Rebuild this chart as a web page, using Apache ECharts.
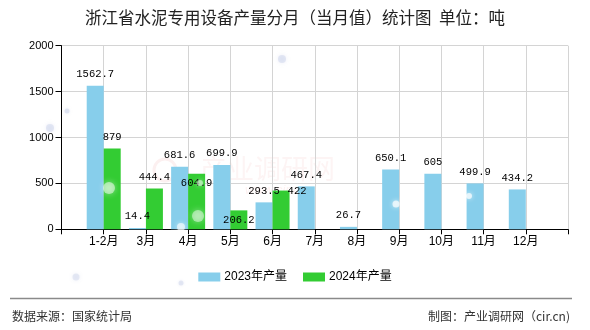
<!DOCTYPE html>
<html>
<head>
<meta charset="utf-8">
<title>浙江省水泥专用设备产量分月（当月值）统计图</title>
<script src="https://cdn.jsdelivr.net/npm/echarts@6/dist/echarts.min.js"></script>
<style>
  html, body { margin: 0; padding: 0; background: #fff; }
  #chart { width: 590px; height: 330px; }
</style>
</head>
<body>
<div id="chart"></div>
<script>
// Monthly output of cement-specific equipment in Zhejiang (tonnes)
const categories = ['1-2月', '3月', '4月', '5月', '6月', '7月', '8月', '9月', '10月', '11月', '12月'];
const output2023 = [1562.7, 14.4, 681.6, 699.9, 293.5, 467.4, 26.7, 650.1, 605, 499.9, 434.2];
const output2024 = [879, 444.4, 604.9, 206.2, 422];
const seriesNames = ['2023年产量', '2024年产量'];
const yMin = 0;
const yMax = 2000;
const yStep = 500;

// The month axis has an empty slot at each end, months sit on the ticks
const axisCategories = [''].concat(categories, ['']);
function padded(values) {
  const out = [null];
  for (let i = 0; i < categories.length; i++) {
    out.push(i < values.length ? values[i] : null);
  }
  out.push(null);
  return out;
}

// Some 2024 labels are moved so they do not collide with neighbours
const labelNudge2024 = { 2: [0, 21], 3: [0, 21], 4: [16, 12.5] };

const labelFont = { fontFamily: '"Liberation Mono", "DejaVu Sans Mono", monospace', fontSize: 10.5, color: '#000' };

function barData(values, nudge) {
  return padded(values).map(function (v, idx) {
    const k = idx - 1;
    if (v !== null && nudge && nudge[k]) {
      return { value: v, label: { offset: nudge[k] } };
    }
    return v;
  });
}

const chart = echarts.init(document.getElementById('chart'), null, { renderer: 'canvas' });

const cjk = '"Noto Sans CJK SC", sans-serif';
const sans = '"Liberation Sans", "Noto Sans CJK SC", sans-serif';

const option = {
  animation: false,
  backgroundColor: '#fff',
  title: {
    text: '浙江省水泥专用设备产量分月（当月值）统计图  单位：吨',
    left: 'center',
    top: 9,
    padding: 0,
    textStyle: { fontFamily: cjk, fontSize: 16.5, fontWeight: 'normal', color: '#222' }
  },
  legend: {
    data: seriesNames,
    left: 'center',
    top: 271,
    padding: 0,
    icon: 'rect',
    itemWidth: 22,
    itemHeight: 9,
    itemGap: 16,
    textStyle: { fontFamily: sans, fontSize: 12, color: '#000', padding: [0, 0, 0, -1] }
  },
  grid: { left: 61.5, right: 22, top: 45.7, bottom: 100.7, containLabel: false },
  xAxis: {
    type: 'category',
    data: axisCategories,
    boundaryGap: false,
    axisLine: { show: true, lineStyle: { color: '#000', width: 1 } },
    axisTick: { show: true, interval: 0, length: 5, lineStyle: { color: '#000' } },
    axisLabel: { interval: 0, margin: 6, fontFamily: sans, fontSize: 12, color: '#000' },
    splitLine: { show: true, interval: 0, lineStyle: { color: '#d4d4d4', width: 1 } }
  },
  yAxis: {
    type: 'value',
    min: yMin,
    max: yMax,
    interval: yStep,
    axisLine: { show: true, lineStyle: { color: '#000', width: 1 } },
    axisTick: { show: true, length: 6, lineStyle: { color: '#000' } },
    axisLabel: {
      margin: 8, fontFamily: sans, fontSize: 11, color: '#000',
      formatter: function (v) { return String(v); }
    },
    splitLine: { show: true, lineStyle: { color: '#d4d4d4', width: 1 } }
  },
  series: [
    {
      name: seriesNames[0],
      type: 'bar',
      data: barData(output2023, null),
      barWidth: 17,
      barGap: '0%',
      itemStyle: { color: '#87CEEB' },
      label: Object.assign({ show: true, position: 'top', distance: 6 }, labelFont)
    },
    {
      name: seriesNames[1],
      type: 'bar',
      data: barData(output2024, labelNudge2024),
      barWidth: 17,
      barGap: '0%',
      itemStyle: { color: '#33CC33' },
      label: Object.assign({ show: true, position: 'top', distance: 6 }, labelFont)
    }
  ],
  graphic: [
    // faint site watermark behind the plot
    { type: 'circle', z: -1, shape: { cx: 165, cy: 170, r: 11 }, style: { fill: 'none', stroke: 'rgba(220,60,60,0.08)', lineWidth: 3 } },
    { type: 'text', z: -1, left: 200, top: 155, style: { text: '产业调研网', font: '27px "Noto Sans CJK SC"', fill: 'rgba(220,60,60,0.06)' } },
    { type: 'text', z: -1, left: 245, top: 184, style: { text: 'www.cir.cn', font: 'italic 13px "Liberation Sans"', fill: 'rgba(220,60,60,0.07)' } },
    // soft glow spots
    { type: 'circle', z: 100, shape: { cx: 109, cy: 188, r: 6 }, style: { fill: 'rgba(255,255,255,0.5)', shadowBlur: 6, shadowColor: 'rgba(255,255,255,0.9)' } },
    { type: 'circle', z: 100, shape: { cx: 198, cy: 216, r: 6 }, style: { fill: 'rgba(255,255,255,0.45)', shadowBlur: 6, shadowColor: 'rgba(255,255,255,0.9)' } },
    { type: 'circle', z: 100, shape: { cx: 181, cy: 227, r: 4 }, style: { fill: 'rgba(255,255,255,0.6)', shadowBlur: 5, shadowColor: 'rgba(255,255,255,0.9)' } },
    { type: 'circle', z: 100, shape: { cx: 200, cy: 183, r: 3 }, style: { fill: 'rgba(255,255,255,0.5)', shadowBlur: 5, shadowColor: 'rgba(255,255,255,0.9)' } },
    { type: 'circle', z: 100, shape: { cx: 396, cy: 204, r: 3.5 }, style: { fill: 'rgba(255,255,255,0.7)', shadowBlur: 5, shadowColor: 'rgba(255,255,255,0.9)' } },
    { type: 'circle', z: 100, shape: { cx: 469, cy: 196, r: 3 }, style: { fill: 'rgba(255,255,255,0.7)', shadowBlur: 5, shadowColor: 'rgba(255,255,255,0.9)' } },
    { type: 'circle', z: 100, shape: { cx: 50, cy: 128, r: 4 }, style: { fill: 'rgba(200,208,232,0.45)', shadowBlur: 4, shadowColor: 'rgba(200,208,232,0.8)' } },
    { type: 'circle', z: 100, shape: { cx: 67, cy: 111, r: 2.5 }, style: { fill: 'rgba(200,208,232,0.45)', shadowBlur: 3, shadowColor: 'rgba(200,208,232,0.8)' } },
    { type: 'circle', z: 100, shape: { cx: 282, cy: 59, r: 4 }, style: { fill: 'rgba(200,208,232,0.45)', shadowBlur: 4, shadowColor: 'rgba(200,208,232,0.8)' } },
    { type: 'circle', z: 100, shape: { cx: 76, cy: 277, r: 3.5 }, style: { fill: 'rgba(200,208,232,0.4)', shadowBlur: 4, shadowColor: 'rgba(200,208,232,0.8)' } },
    { type: 'circle', z: 100, shape: { cx: 181, cy: 283, r: 2.5 }, style: { fill: 'rgba(200,208,232,0.4)', shadowBlur: 3, shadowColor: 'rgba(200,208,232,0.8)' } },
    // footer
    { type: 'line', shape: { x1: 10, y1: 298.5, x2: 572, y2: 298.5 }, style: { stroke: '#8a8a8a', lineWidth: 1.5 } },
    { type: 'text', left: 12, top: 310, style: { text: '数据来源：国家统计局', font: '12px "Noto Sans CJK SC"', fill: '#333' } },
    { type: 'text', right: 20, top: 310, style: { text: '制图：产业调研网（cir.cn)', font: '12px "Noto Sans CJK SC"', fill: '#333' } }
  ]
};

chart.setOption(option);
</script>
</body>
</html>
